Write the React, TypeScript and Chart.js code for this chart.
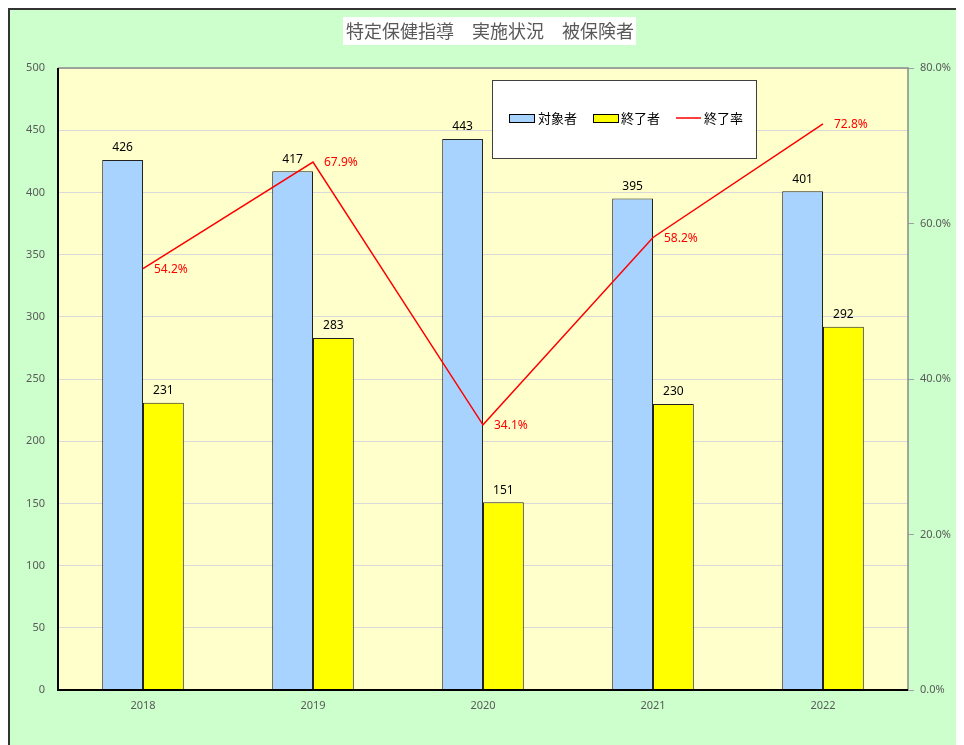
import React, { useEffect, useRef } from "react";
import { Chart, registerables } from "chart.js";

Chart.register(...registerables);

const years = ["2018", "2019", "2020", "2021", "2022"];
const targets = [426, 417, 443, 395, 401];
const completed = [231, 283, 151, 230, 292];
const rates = [54.2, 67.9, 34.1, 58.2, 72.8];
const titleText = "特定保健指導　実施状況　被保険者";
const legendLabels = ["対象者", "終了者", "終了率"];

const BLUE = "#A9D3FF";
const YELLOW = "#FFFF00";
const RED = "#FF0000";
const FONT = "'Noto Sans', 'Noto Sans CJK JP', sans-serif";
const JFONT = "'Noto Sans CJK JP', 'Noto Sans', sans-serif";

const decorPlugin = {
  id: "decor",
  beforeDraw(chart: any) {
    const { ctx, chartArea: a } = chart;
    ctx.save();
    ctx.fillStyle = "#CCFFCC";
    ctx.fillRect(0, 0, chart.width, chart.height);
    ctx.fillStyle = "#FFFFCC";
    ctx.fillRect(a.left, a.top, a.right - a.left, a.bottom - a.top);
    ctx.restore();
  },
  afterDatasetsDraw(chart: any) {
    const { ctx, chartArea: a } = chart;
    ctx.save();
    // plot border
    ctx.strokeStyle = "#8a8a8a";
    ctx.lineWidth = 1.5;
    ctx.beginPath();
    ctx.moveTo(a.left, a.top);
    ctx.lineTo(a.right, a.top);
    ctx.lineTo(a.right, a.bottom);
    ctx.stroke();
    ctx.strokeStyle = "#000000";
    ctx.lineWidth = 2;
    ctx.beginPath();
    ctx.moveTo(a.left, a.top);
    ctx.lineTo(a.left, a.bottom);
    ctx.lineTo(a.right, a.bottom);
    ctx.stroke();

    // bar labels
    ctx.font = `12px ${FONT}`;
    ctx.fillStyle = "#000";
    ctx.textAlign = "center";
    ctx.textBaseline = "bottom";
    [0, 1].forEach((di) => {
      const meta = chart.getDatasetMeta(di);
      meta.data.forEach((el: any, i: number) => {
        const v = chart.data.datasets[di].data[i];
        ctx.fillText(String(v), el.x, el.y - 6);
      });
    });
    // line labels
    const lm = chart.getDatasetMeta(2);
    ctx.fillStyle = RED;
    ctx.textAlign = "left";
    ctx.textBaseline = "middle";
    lm.data.forEach((el: any, i: number) => {
      const v = chart.data.datasets[2].data[i] as number;
      ctx.fillText(v.toFixed(1) + "%", el.x + 11, el.y + 1);
    });

    // title
    ctx.fillStyle = "#FFFFFF";
    ctx.fillRect(333, 7, 293, 28);
    ctx.fillStyle = "#595959";
    ctx.font = `18px ${JFONT}`;
    ctx.textAlign = "center";
    ctx.textBaseline = "middle";
    ctx.fillText(titleText, 480, 21.5);

    // legend
    ctx.fillStyle = "#FFFFFF";
    ctx.fillRect(482, 70, 264, 78);
    ctx.strokeStyle = "#404040";
    ctx.lineWidth = 1;
    ctx.strokeRect(482.5, 70.5, 264, 78);
    const ly = 108;
    ctx.font = `13px ${JFONT}`;
    ctx.textAlign = "left";
    ctx.textBaseline = "middle";
    ctx.fillStyle = BLUE;
    ctx.fillRect(499.5, 104.5, 25, 8);
    ctx.strokeStyle = "#000";
    ctx.strokeRect(499.5, 104.5, 25, 8);
    ctx.fillStyle = "#000";
    ctx.fillText(legendLabels[0], 528, ly);
    ctx.fillStyle = YELLOW;
    ctx.fillRect(583.5, 104.5, 25, 8);
    ctx.strokeRect(583.5, 104.5, 25, 8);
    ctx.fillStyle = "#000";
    ctx.fillText(legendLabels[1], 611, ly);
    ctx.strokeStyle = RED;
    ctx.lineWidth = 1.5;
    ctx.beginPath();
    ctx.moveTo(666, ly);
    ctx.lineTo(691, ly);
    ctx.stroke();
    ctx.fillStyle = "#000";
    ctx.fillText(legendLabels[2], 694, ly);
    ctx.restore();
  },
};

export default function App() {
  const ref = useRef<HTMLCanvasElement>(null);
  useEffect(() => {
    if (!ref.current) return;
    const chart = new Chart(ref.current, {
      data: {
        labels: years,
        datasets: [
          {
            type: "bar",
            label: legendLabels[0],
            data: targets,
            backgroundColor: BLUE,
            borderColor: "#222",
            borderWidth: 1,
            yAxisID: "y",
            categoryPercentage: 0.48,
            barPercentage: 1,
            order: 2,
          },
          {
            type: "bar",
            label: legendLabels[1],
            data: completed,
            backgroundColor: YELLOW,
            borderColor: "#222",
            borderWidth: 1,
            yAxisID: "y",
            categoryPercentage: 0.48,
            barPercentage: 1,
            order: 2,
          },
          {
            type: "line",
            label: legendLabels[2],
            data: rates,
            borderColor: RED,
            borderWidth: 1.5,
            pointRadius: 0,
            yAxisID: "y1",
            order: 1,
          },
        ],
      } as any,
      options: {
        animation: false,
        responsive: false,
        maintainAspectRatio: false,
        layout: { padding: { top: 58, left: 0, right: 0, bottom: 0 } },
        plugins: { legend: { display: false }, tooltip: { enabled: false }, title: { display: false } },
        scales: {
          x: {
            grid: { display: false, drawTicks: false },
            border: { display: false },
            ticks: { color: "#595959", font: { size: 11, family: FONT }, padding: 9 },
            afterFit: (s: any) => { s.height = 55; },
          },
          y: {
            position: "left",
            min: 0,
            max: 500,
            ticks: { stepSize: 50, color: "#595959", font: { size: 11, family: FONT }, padding: 13 },
            grid: { color: "#D9D9D9", drawTicks: false, lineWidth: 1 },
            border: { display: false },
            afterFit: (s: any) => { s.width = 48; },
          },
          y1: {
            position: "right",
            min: 0,
            max: 80,
            ticks: {
              stepSize: 20,
              color: "#595959",
              font: { size: 11, family: FONT },
              padding: 6,
              callback: (v: any) => Number(v).toFixed(1) + "%",
            },
            grid: { drawOnChartArea: false, color: "#A0A0A0", tickLength: 6 },
            border: { display: false },
            afterFit: (s: any) => { s.width = 56; },
          },
        },
      } as any,
      plugins: [decorPlugin],
    });
    return () => chart.destroy();
  }, []);
  return (
    <div
      style={{
        width: 954,
        height: 735,
        borderLeft: "2px solid #333",
        borderTop: "2px solid #333",
        background: "#CCFFCC",
      }}
    >
      <canvas ref={ref} width={954} height={735} style={{ display: "block" }} />
    </div>
  );
}
